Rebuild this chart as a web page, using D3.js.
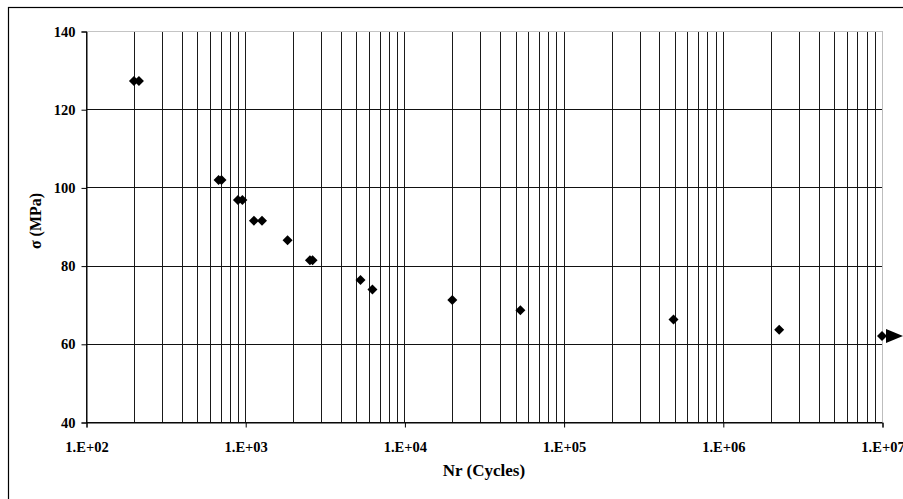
<!DOCTYPE html>
<html>
<head>
<meta charset="utf-8">
<script src="https://cdn.jsdelivr.net/npm/d3@7"></script>
<style>
  html, body { margin: 0; padding: 0; background: #fff; }
  svg { display: block; }
  text { font-family: "Liberation Serif", "Times New Roman", serif; font-weight: bold; fill: #000; }
</style>
</head>
<body>
<svg id="chart" width="903" height="499"></svg>
<script>
// ---- data ----
const cycles = [200, 215, 680, 710, 900, 960, 1135, 1275, 1845, 2550, 2650, 5300, 6300, 20000, 53500, 490000, 2260000, 10000000];
const stress = [127.2, 127.2, 101.9, 101.9, 96.8, 96.8, 91.5, 91.5, 86.5, 81.4, 81.4, 76.3, 73.9, 71.2, 68.6, 66.2, 63.6, 62.0];
const runoutCycles = [10000000];
const runoutStress = [62.0];
const yTicks = [40, 60, 80, 100, 120, 140];
const xTicks = [1e2, 1e3, 1e4, 1e5, 1e6, 1e7];
const xTickLabels = ["1.E+02", "1.E+03", "1.E+04", "1.E+05", "1.E+06", "1.E+07"];
const xTitle = "Nr (Cycles)";
const yTitle = "σ (MPa)";

(function () {
// ---- layout ----
const svg = d3.select("#chart");
const pL = 86, pR = 882, pT = 31, pB = 422;

const x = d3.scaleLog().domain([1e2, 1e7]).range([pL, pR]);
const y = d3.scaleLinear().domain([40, 140]).range([pB, pT]);

// outer border (right/bottom edges fall outside the picture)
svg.append("rect")
  .attr("x", 8.5).attr("y", 7.5).attr("width", 1200).attr("height", 1200)
  .attr("fill", "none").attr("stroke", "#000").attr("stroke-width", 1.2);

// minor + major vertical grid lines
const vGrid = [];
for (let e = 2; e < 7; e++) for (let k = 1; k < 10; k++) vGrid.push(k * Math.pow(10, e));
vGrid.push(1e7);

svg.append("g").selectAll("line").data(vGrid).join("line")
  .attr("x1", d => Math.round(x(d)) + 0.5).attr("x2", d => Math.round(x(d)) + 0.5)
  .attr("y1", pT).attr("y2", pB)
  .attr("stroke", d => d === 1e7 ? "#bdbdbd" : "#1a1a1a")
  .attr("stroke-width", 1);

svg.append("g").selectAll("line").data(yTicks).join("line")
  .attr("x1", pL).attr("x2", pR)
  .attr("y1", d => Math.round(y(d)) + 0.5).attr("y2", d => Math.round(y(d)) + 0.5)
  .attr("stroke", d => d === 140 ? "#c4c4c4" : "#111")
  .attr("stroke-width", 1);

// y axis
const yAxis = d3.axisLeft(y).tickValues(yTicks).tickSize(5).tickPadding(6).tickFormat(d3.format("d"));
const gy = svg.append("g").attr("transform", `translate(${pL + 0.5},0.5)`).call(yAxis);
gy.select(".domain").attr("stroke", "#000");
gy.selectAll(".tick line").attr("stroke", "#000");
gy.selectAll("text").style("font-family", '"Liberation Serif", serif').style("font-weight", "bold")
  .style("font-size", "14.5px").attr("fill", "#000");

// x axis
const xAxis = d3.axisBottom(x).tickValues(xTicks).tickSize(5).tickPadding(14)
  .tickFormat((d, i) => xTickLabels[i]);
const gx = svg.append("g").attr("transform", `translate(0.5,${pB + 0.5})`).call(xAxis);
gx.select(".domain").attr("stroke", "#000");
gx.selectAll(".tick line").attr("stroke", "#000");
gx.selectAll("text").style("font-family", '"Liberation Serif", serif').style("font-weight", "bold")
  .style("font-size", "14.5px").attr("fill", "#000");

// axis titles
svg.append("text").attr("x", (pL + pR) / 2).attr("y", 476)
  .attr("text-anchor", "middle").style("font-size", "17px").text(xTitle);
svg.append("text").attr("transform", `translate(41,221) rotate(-90)`)
  .attr("text-anchor", "middle").style("font-size", "16px").text(yTitle);

// data points (diamonds)
const pts = cycles.map((c, i) => ({ c, s: stress[i] }));
const diamond = "M0,-5L5,0L0,5L-5,0Z";
svg.append("g").selectAll("path").data(pts).join("path")
  .attr("d", diamond)
  .attr("transform", d => `translate(${x(d.c)},${y(d.s)})`)
  .attr("fill", "#000");

// run-out arrow
const runs = runoutCycles.map((c, i) => ({ c, s: runoutStress[i] }));
svg.append("g").selectAll("path").data(runs).join("path")
  .attr("d", "M4,-7L21,0L4,7Z")
  .attr("transform", d => `translate(${x(d.c)},${y(d.s)})`)
  .attr("fill", "#000");
})();
</script>
</body>
</html>
